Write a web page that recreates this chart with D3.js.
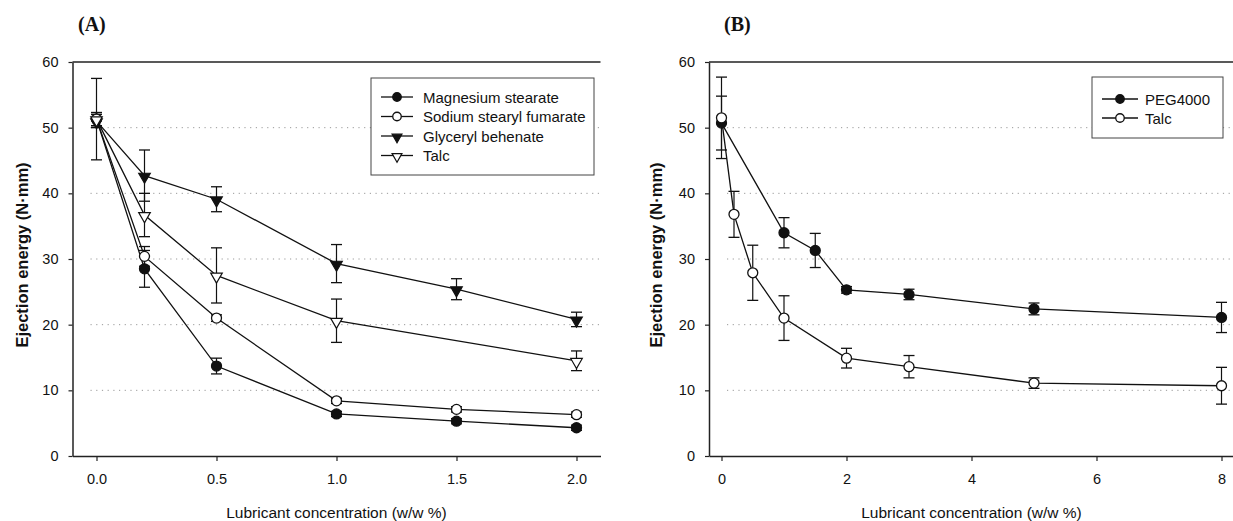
<!DOCTYPE html>
<html>
<head>
<meta charset="utf-8">
<script src="https://cdn.jsdelivr.net/npm/d3@7"></script>
<style>
  body { margin: 0; background: #fff; }
  svg { display: block; }
  text { font-family: "Liberation Sans", Arial, sans-serif; fill: #111; }
</style>
</head>
<body>
<svg id="chart" width="1233" height="521"></svg>
<script>
// ---------- Data ----------
// Panel A
const xA_common = [0, 0.2, 0.5, 1.0, 1.5, 2.0];
const xA_talc = [0, 0.2, 0.5, 1.0, 2.0];
const mgStearate = [51.3, 28.5, 13.7, 6.4, 5.3, 4.3];
const mgStearateErr = [6.2, 2.8, 1.2, 0.4, 0.4, 0.4];
const sodiumFumarate = [51.3, 30.4, 21.0, 8.4, 7.1, 6.3];
const sodiumFumarateErr = [1.0, 1.5, 0.5, 0.4, 0.4, 0.4];
const glycerylBehenate = [51.0, 42.7, 39.1, 29.3, 25.4, 20.8];
const glycerylBehenateErr = [1.0, 3.9, 1.9, 2.9, 1.6, 1.1];
const talcA = [51.3, 36.7, 27.5, 20.6, 14.5];
const talcAErr = [1.0, 3.3, 4.2, 3.3, 1.5];
const xTicksA = [0, 0.5, 1.0, 1.5, 2.0];

// Panel B
const xB_peg = [0, 1, 1.5, 2, 3, 5, 8];
const peg4000 = [50.7, 34.0, 31.3, 25.3, 24.6, 22.4, 21.1];
const peg4000Err = [4.1, 2.3, 2.6, 0.5, 0.8, 0.9, 2.3];
const xB_talc = [0, 0.2, 0.5, 1, 2, 3, 5, 8];
const talcB = [51.5, 36.8, 27.9, 21.0, 14.9, 13.6, 11.1, 10.7];
const talcBErr = [6.2, 3.5, 4.2, 3.4, 1.5, 1.7, 0.8, 2.8];
const xTicksB = [0, 2, 4, 6, 8];

const yTicks = [0, 10, 20, 30, 40, 50, 60];
const gridValues = [10, 20, 30, 40, 50];
const yTitle = "Ejection energy (N\u00B7mm)";
const xTitle = "Lubricant concentration (w/w %)";

const seriesA = [
  { name: "Magnesium stearate", x: xA_common, y: mgStearate, e: mgStearateErr, shape: "circle", filled: true },
  { name: "Sodium stearyl fumarate", x: xA_common, y: sodiumFumarate, e: sodiumFumarateErr, shape: "circle", filled: false },
  { name: "Glyceryl behenate", x: xA_common, y: glycerylBehenate, e: glycerylBehenateErr, shape: "triangle", filled: true },
  { name: "Talc", x: xA_talc, y: talcA, e: talcAErr, shape: "triangle", filled: false }
];
const seriesB = [
  { name: "PEG4000", x: xB_peg, y: peg4000, e: peg4000Err, shape: "circle", filled: true },
  { name: "Talc", x: xB_talc, y: talcB, e: talcBErr, shape: "circle", filled: false }
];

const svg = d3.select("#chart");

function marker(g, shape, filled, cx, cy, k) {
  k = k || 1;
  if (shape === "circle") {
    g.append("circle").attr("cx", cx).attr("cy", cy).attr("r", 5 * k)
      .attr("fill", filled ? "#111" : "#fff").attr("stroke", "#111").attr("stroke-width", 1.3);
  } else {
    const s = d3.symbol().type(d3.symbolTriangle).size(58 * k * k)();
    g.append("path").attr("d", s)
      .attr("transform", `translate(${cx},${cy + 1}) rotate(180)`)
      .attr("fill", filled ? "#111" : "#fff").attr("stroke", "#111").attr("stroke-width", 1.2);
  }
}

function panel(opts) {
  const { x0, x1, yTop, yBot, xDomain, xTicks, xFmt, series, label, labelX, yTitleX, legend } = opts;
  const g = svg.append("g");
  const x = d3.scaleLinear().domain(xDomain).range([x0, x1]);
  const y = d3.scaleLinear().domain([0, 60]).range([yBot, yTop]);

  // gridlines
  g.append("g").selectAll("line").data(gridValues).join("line")
    .attr("x1", x0 + 18).attr("x2", x1).attr("y1", d => y(d)).attr("y2", d => y(d))
    .attr("stroke", "#999").attr("stroke-width", 1).attr("stroke-dasharray", "1.2,4.5");

  // top frame line
  g.append("line").attr("x1", x0).attr("x2", x1).attr("y1", yTop).attr("y2", yTop)
    .attr("stroke", "#222").attr("stroke-width", 1.4);

  // axes
  const xa = g.append("g").attr("transform", `translate(0,${yBot})`)
    .call(d3.axisBottom(x).tickValues(xTicks).tickFormat(xFmt).tickSize(5).tickPadding(13).tickSizeOuter(0));
  const ya = g.append("g").attr("transform", `translate(${x0},0)`)
    .call(d3.axisLeft(y).tickValues(yTicks).tickFormat(d3.format("d")).tickSize(4).tickPadding(10).tickSizeOuter(0));
  [xa, ya].forEach(a => {
    a.select(".domain").attr("stroke", "#222").attr("stroke-width", 1.5);
    a.selectAll(".tick line").attr("stroke", "#222").attr("stroke-width", 1.2);
    a.selectAll(".tick text").attr("font-size", 14.5).attr("fill", "#111")
      .style("font-family", '"Liberation Sans", Arial, sans-serif');
  });

  // titles
  g.append("text").attr("x", (x0 + x1) / 2).attr("y", 518).attr("text-anchor", "middle")
    .attr("font-size", 15.5).text(xTitle);
  g.append("text").attr("transform", `translate(${yTitleX},${(yTop + yBot) / 2 - 4}) rotate(-90)`)
    .attr("text-anchor", "middle").attr("dominant-baseline", "central")
    .attr("font-size", 16.5).attr("font-weight", "bold").text(yTitle);
  g.append("text").attr("x", labelX).attr("y", 31)
    .style("font-family", '"Liberation Serif", "Times New Roman", serif')
    .attr("font-size", 20).attr("font-weight", "bold").text(label);

  const line = d3.line().x(d => x(d[0])).y(d => y(d[1]));
  // lines
  series.forEach(s => {
    const pts = s.x.map((xv, i) => [xv, s.y[i]]);
    g.append("path").datum(pts).attr("d", line).attr("fill", "none")
      .attr("stroke", "#111").attr("stroke-width", 1.3);
  });
  // error bars
  series.forEach(s => {
    s.x.forEach((xv, i) => {
      const cx = x(xv), hi = y(s.y[i] + s.e[i]), lo = y(s.y[i] - s.e[i]);
      g.append("line").attr("x1", cx).attr("x2", cx).attr("y1", hi).attr("y2", lo)
        .attr("stroke", "#111").attr("stroke-width", 1.2);
      [hi, lo].forEach(yy => g.append("line").attr("x1", cx - 5.5).attr("x2", cx + 5.5)
        .attr("y1", yy).attr("y2", yy).attr("stroke", "#111").attr("stroke-width", 1.3));
    });
  });
  // markers
  series.forEach(s => {
    s.x.forEach((xv, i) => marker(g, s.shape, s.filled, x(xv), y(s.y[i])));
  });

  // legend
  const L = legend;
  g.append("rect").attr("x", L.x).attr("y", L.y).attr("width", L.w).attr("height", L.h)
    .attr("fill", "#fff").attr("stroke", "#444").attr("stroke-width", 1);
  series.forEach((s, i) => {
    const cy = L.y + L.first + i * L.step;
    g.append("line").attr("x1", L.x + 10).attr("x2", L.x + L.lineLen).attr("y1", cy).attr("y2", cy)
      .attr("stroke", "#111").attr("stroke-width", 1.3);
    marker(g, s.shape, s.filled, L.x + 10 + (L.lineLen - 10) / 2, cy, 0.85);
    g.append("text").attr("x", L.x + L.textX).attr("y", cy).attr("dominant-baseline", "central")
      .attr("font-size", 15).text(s.name);
  });
}

panel({
  x0: 72.5, x1: 600.5, yTop: 62, yBot: 456, xDomain: [-0.1, 2.1], xTicks: xTicksA,
  xFmt: d3.format(".1f"), series: seriesA, label: "(A)", labelX: 78, yTitleX: 22,
  legend: { x: 371, y: 78, w: 223, h: 97, first: 19, step: 19.5, lineLen: 42, textX: 52 }
});
panel({
  x0: 709, x1: 1234, yTop: 62, yBot: 456, xDomain: [-0.2, 8.2], xTicks: xTicksB,
  xFmt: d3.format("d"), series: seriesB, label: "(B)", labelX: 724, yTitleX: 656,
  legend: { x: 1092, y: 77, w: 131, h: 61, first: 22, step: 19, lineLen: 46, textX: 53 }
});
</script>
</body>
</html>
